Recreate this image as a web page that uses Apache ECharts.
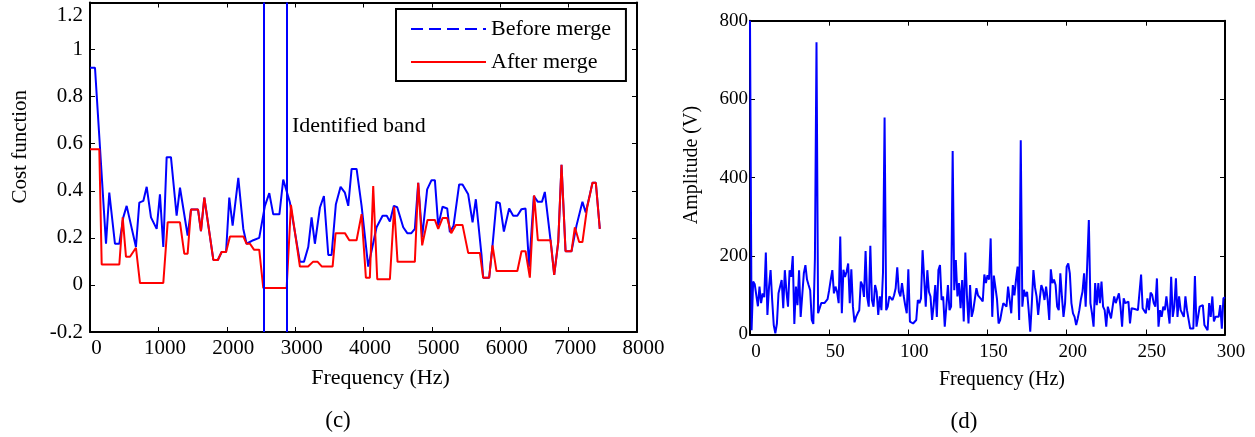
<!DOCTYPE html>
<html><head><meta charset="utf-8">
<script src="https://cdn.jsdelivr.net/npm/echarts@6/dist/echarts.min.js"></script>
<style>html,body{margin:0;padding:0;background:#fff}#c{width:1255px;height:437px}</style>
</head><body><div id="c"></div>
<script>
const FONT = '"Liberation Serif","Times New Roman",serif';

// (c) Cost function vs frequency
const beforeFreq = [0,73,234,282,365,429,487,536,672,721,780,829,892,975,1023,1072,1121,1184,1267,1316,1428,1477,1580,1623,1672,1804,1870,1925,1990,2037,2086,2169,2242,2290,2388,2475,2558,2622,2680,2770,2826,2924,3070,3129,3192,3241,3289,3363,3421,3485,3533,3596,3665,3728,3777,3826,3899,3972,4069,4191,4279,4340,4386,4444,4493,4581,4640,4700,4751,4800,4858,4931,4995,5044,5093,5156,5224,5263,5317,5399,5448,5531,5595,5643,5726,5750,5838,5887,5945,5994,6053,6130,6189,6250,6311,6370,6423,6491,6550,6610,6652,6750,6789,6848,6896,6955,7042,7115,7202,7250,7300,7349,7398,7456];
const beforeCost = [0.923,0.923,0.175,0.392,0.175,0.175,0.287,0.336,0.161,0.35,0.357,0.417,0.287,0.238,0.385,0.161,0.543,0.543,0.294,0.413,0.21,0.32,0.32,0.229,0.371,0.106,0.106,0.14,0.14,0.371,0.252,0.455,0.238,0.175,0.19,0.2,0.336,0.39,0.3,0.3,0.448,0.35,0.098,0.098,0.161,0.287,0.175,0.329,0.378,0.127,0.127,0.343,0.417,0.392,0.336,0.493,0.493,0.336,0.078,0.245,0.294,0.294,0.269,0.336,0.33,0.245,0.22,0.22,0.238,0.434,0.203,0.406,0.445,0.445,0.252,0.332,0.325,0.224,0.252,0.427,0.427,0.385,0.266,0.364,0.127,0.031,0.031,0.168,0.353,0.347,0.227,0.325,0.294,0.294,0.322,0.325,0.078,0.378,0.353,0.353,0.395,0.154,0.043,0.182,0.51,0.143,0.143,0.252,0.353,0.308,0.37,0.434,0.434,0.238];
const afterFreq = [0,136,171,429,478,526,585,672,731,1072,1136,1316,1379,1428,1477,1580,1623,1672,1804,1870,1925,1990,2047,2242,2290,2340,2398,2475,2534,2876,2939,3070,3190,3260,3330,3392,3548,3592,3728,3792,3899,3972,4035,4093,4142,4201,4386,4449,4498,4751,4800,4858,4936,5044,5093,5156,5224,5283,5351,5448,5531,5702,5750,5838,5887,5945,6250,6311,6370,6433,6496,6550,6735,6789,6848,6896,6955,7042,7091,7154,7202,7271,7349,7398,7456];
const afterCost = [0.577,0.577,0.087,0.087,0.287,0.12,0.12,0.158,0.008,0.008,0.266,0.266,0.133,0.133,0.32,0.32,0.229,0.371,0.106,0.106,0.14,0.14,0.206,0.206,0.175,0.175,0.15,0.15,-0.013,-0.013,0.34,0.078,0.078,0.098,0.098,0.078,0.078,0.22,0.22,0.19,0.19,0.301,0.031,0.031,0.42,0.024,0.024,0.332,0.098,0.098,0.434,0.168,0.276,0.276,0.238,0.284,0.284,0.22,0.255,0.255,0.136,0.136,0.031,0.031,0.168,0.059,0.059,0.143,0.143,0.031,0.381,0.19,0.19,0.043,0.182,0.51,0.143,0.143,0.245,0.182,0.182,0.329,0.434,0.434,0.238];
const bandEdges = [2534, 2876];
const costXTicks = {min: 0, max: 8000, step: 1000};
const costYTicks = {min: -0.2, max: 1.2, step: 0.2};

// (d) Amplitude spectrum, 0..300 Hz at 1 Hz
const ampValues = [800,11,135,128,100,72,122,80,105,95,
209,50,120,164,88,24,3,28,105,105,
139,67,164,110,71,164,147,200,27,122,
75,164,45,45,156,177,140,126,113,37,
27,194,745,54,54,80,80,80,75,90,
113,140,164,105,122,109,80,250,54,165,
147,160,181,80,166,71,31,45,54,62,
135,126,96,213,96,71,226,88,71,126,
109,50,97,62,158,553,62,71,97,92,
88,100,118,171,109,97,131,100,75,54,
166,33,28,28,33,37,88,80,92,215,
215,71,164,109,97,37,75,126,45,164,
177,88,97,20,71,126,62,71,468,113,
190,97,131,67,139,33,209,100,28,126,
45,62,62,118,100,101,90,84,153,131,
151,140,245,45,150,147,90,28,37,60,
80,84,71,122,122,54,126,100,139,173,
37,495,71,114,97,109,62,7,80,164,
120,97,50,90,126,114,88,122,88,37,
166,131,140,126,71,62,156,97,45,80,
173,181,156,80,54,45,24,41,62,90,
109,156,71,67,292,80,54,20,131,75,
131,80,135,71,62,20,71,71,41,70,
97,80,84,105,71,20,92,80,75,84,
28,67,62,65,67,62,58,153,67,62,
54,92,62,107,101,80,71,143,20,62,
45,71,62,97,62,28,147,45,71,143,
45,97,62,62,45,97,62,58,15,20,
15,149,20,45,71,75,75,24,28,11,
80,45,97,33,45,45,45,75,15,92,
95];
const ampXTicks = {min: 0, max: 300, step: 50};
const ampYTicks = {min: 0, max: 800, step: 200};

const BLUE = '#0000ff', RED = '#ff0000';
const chart = echarts.init(document.getElementById('c'));

function fmtCost(v){
  const r = Math.round(v * 10) / 10;
  if (Math.abs(r - costYTicks.max) < 1e-6) return '{top|' + r + '}';
  return String(r === 0 ? 0 : r);
}
function plain(v){ return String(v); }
function boxAxis(base, pos, fontSize, labelOpts, nameOpts){
  return Object.assign({
    type: 'value', position: pos,
    axisLine: {show: true, onZero: false, lineStyle: {color: '#000', width: 2}},
    axisTick: {show: true, inside: true, length: 5, lineStyle: {color: '#000', width: 1}},
    splitLine: {show: false},
    axisLabel: labelOpts ? Object.assign({fontFamily: FONT, fontSize: fontSize, color: '#000', formatter: plain}, labelOpts) : {show: false}
  }, base, nameOpts || {});
}

const option = {
  animation: false,
  backgroundColor: '#fff',
  grid: [
    {left: 90, top: 2.5, width: 547, height: 329.5},
    {left: 750, top: 20.7, width: 475, height: 313.8}
  ],
  xAxis: [
    boxAxis({gridIndex: 0, min: costXTicks.min, max: costXTicks.max, interval: costXTicks.step}, 'bottom', 21,
      {margin: 6, padding: [0, 0, 0, 13]},
      {name: 'Frequency (Hz)', nameLocation: 'middle', nameGap: 35,
       nameTextStyle: {fontFamily: FONT, fontSize: 22, color: '#000', padding: [0, 0, 0, 34]}}),
    boxAxis({gridIndex: 0, min: costXTicks.min, max: costXTicks.max, interval: costXTicks.step}, 'top', 21, null),
    boxAxis({gridIndex: 1, min: ampXTicks.min, max: ampXTicks.max, interval: ampXTicks.step}, 'bottom', 19,
      {margin: 8, padding: [0, 0, 0, 12]},
      {name: 'Frequency (Hz)', nameLocation: 'middle', nameGap: 35,
       nameTextStyle: {fontFamily: FONT, fontSize: 20, color: '#000', padding: [0, 0, 0, 29]}}),
    boxAxis({gridIndex: 1, min: ampXTicks.min, max: ampXTicks.max, interval: ampXTicks.step}, 'top', 19, null)
  ],
  yAxis: [
    boxAxis({gridIndex: 0, min: costYTicks.min, max: costYTicks.max, interval: costYTicks.step}, 'left', 21,
      {margin: 7, formatter: fmtCost,
       rich: {top: {fontFamily: FONT, fontSize: 21, color: '#000', padding: [25, 0, 0, 0]}}},
      {name: 'Cost function', nameLocation: 'middle', nameGap: 59,
       nameTextStyle: {fontFamily: FONT, fontSize: 21, color: '#000', padding: [0, 0, 0, 41]}}),
    boxAxis({gridIndex: 0, min: costYTicks.min, max: costYTicks.max, interval: costYTicks.step}, 'right', 21, null),
    boxAxis({gridIndex: 1, min: ampYTicks.min, max: ampYTicks.max, interval: ampYTicks.step}, 'left', 19,
      {margin: 2},
      {name: 'Amplitude (V)', nameLocation: 'middle', nameGap: 48,
       nameTextStyle: {fontFamily: FONT, fontSize: 20, color: '#000', padding: [0, 0, 0, 25]}}),
    boxAxis({gridIndex: 1, min: ampYTicks.min, max: ampYTicks.max, interval: ampYTicks.step}, 'right', 19, null)
  ],
  legend: {
    left: 396, top: 9, orient: 'vertical', selectedMode: false,
    backgroundColor: '#fff', borderColor: '#000', borderWidth: 2,
    padding: [9, 15, 8, 14], itemGap: 11, itemWidth: 75, itemHeight: 14,
    textStyle: {fontFamily: FONT, fontSize: 22, color: '#000'},
    data: [
      {name: 'Before merge', itemStyle: {opacity: 0}, lineStyle: {type: [12, 6], width: 2, color: BLUE}},
      {name: 'After merge', itemStyle: {opacity: 0}, lineStyle: {width: 2, color: RED}}
    ]
  },
  series: [
    {type: 'line', name: 'Before merge', xAxisIndex: 0, yAxisIndex: 0, symbol: 'none',
     data: beforeFreq.map((f, i) => [f, beforeCost[i]]),
     lineStyle: {color: BLUE, width: 2}, itemStyle: {color: BLUE}, z: 3},
    {type: 'line', name: 'After merge', xAxisIndex: 0, yAxisIndex: 0, symbol: 'none',
     data: afterFreq.map((f, i) => [f, afterCost[i]]),
     lineStyle: {color: RED, width: 2}, itemStyle: {color: RED}, z: 4,
     markLine: {silent: true, symbol: 'none', label: {show: false},
       lineStyle: {color: BLUE, width: 2, type: 'solid'},
       data: bandEdges.map(x => ({xAxis: x}))}},
    {type: 'line', name: 'Amplitude', xAxisIndex: 2, yAxisIndex: 2, symbol: 'none',
     data: ampValues.map((v, i) => [i, v]),
     lineStyle: {color: BLUE, width: 2}, itemStyle: {color: BLUE}, z: 3}
  ],
  graphic: [
    {type: 'text', x: 292, y: 126, style: {text: 'Identified band', fontFamily: FONT, fontSize: 22, fill: '#000', align: 'left', verticalAlign: 'middle'}},
    {type: 'text', x: 338, y: 421, style: {text: '(c)', fontFamily: FONT, fontSize: 23, fill: '#000', align: 'center', verticalAlign: 'middle'}},
    {type: 'text', x: 964, y: 422, style: {text: '(d)', fontFamily: FONT, fontSize: 23, fill: '#000', align: 'center', verticalAlign: 'middle'}}
  ]
};
chart.setOption(option);
</script></body></html>
